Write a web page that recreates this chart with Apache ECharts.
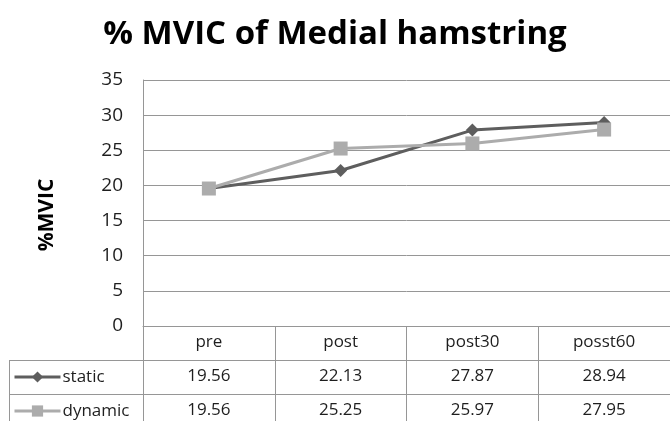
<!DOCTYPE html>
<html>
<head>
<meta charset="utf-8">
<script src="https://cdn.jsdelivr.net/npm/echarts@6/dist/echarts.min.js"></script>
<style>
  html, body { margin: 0; padding: 0; background: #fff; }
  #chart { width: 670px; height: 421px; }
</style>
</head>
<body>
<div id="chart"></div>
<script>
// Phases of the measurement
const categories = ['pre', 'post', 'post30', 'posst60'];
// %MVIC of the medial hamstring per stretching protocol
const staticValues = [19.56, 22.13, 27.87, 28.94];
const dynamicValues = [19.56, 25.25, 25.97, 27.95];
const seriesNames = ['static', 'dynamic'];

const FONT = '"Open Sans", "Noto Sans", sans-serif';
const LINE = '#969696';
const TEXT = '#1e1e1e';
const TABLE_FONT = 17;

// Plot and data-table geometry
const G_LEFT = 143, G_TOP = 80, G_WIDTH = 533, G_HEIGHT = 246;
const ROW_H = 34;
const TABLE_LEFT = 9;
const G_BOTTOM_Y = G_TOP + G_HEIGHT;

const chart = echarts.init(document.getElementById('chart'));

function tableAxis(labels, offset) {
  return {
    type: 'category',
    position: 'bottom',
    offset: offset,
    data: labels,
    boundaryGap: true,
    axisLine: { show: true, lineStyle: { color: LINE, width: 1 } },
    axisTick: { show: false },
    axisLabel: {
      interval: 0, margin: 8, color: TEXT, fontSize: TABLE_FONT, fontFamily: FONT
    },
    splitLine: { show: false }
  };
}

// One legend per table row so each key sits in its own row-header cell
function rowLegend(name, rowIndex) {
  return {
    data: [name],
    orient: 'horizontal',
    left: 13,
    top: G_BOTTOM_Y + ROW_H * rowIndex + ROW_H / 2 - 9,
    padding: 0,
    itemWidth: 46,
    itemHeight: 14,
    lineStyle: { width: 3 },
    textStyle: {
      fontSize: TABLE_FONT, lineHeight: 18, color: TEXT, fontFamily: FONT,
      padding: [0, 0, 0, -3]
    },
    selectedMode: false
  };
}

chart.setOption({
  animation: false,
  backgroundColor: '#fff',
  title: {
    text: '% MVIC of Medial hamstring',
    left: 'center',
    top: 13,
    textStyle: { fontSize: 33, fontWeight: 'bold', color: '#000', fontFamily: FONT }
  },
  legend: [rowLegend(seriesNames[0], 1), rowLegend(seriesNames[1], 2)],
  grid: { left: G_LEFT, top: G_TOP, width: G_WIDTH, height: G_HEIGHT, containLabel: false },
  xAxis: [
    {
      type: 'category',
      position: 'bottom',
      data: categories,
      boundaryGap: true,
      axisLine: { show: true, lineStyle: { color: LINE, width: 1 } },
      axisTick: { show: true, interval: 0, length: ROW_H * 3, lineStyle: { color: LINE, width: 1 } },
      axisLabel: { interval: 0, margin: 8, color: TEXT, fontSize: TABLE_FONT, fontFamily: FONT },
      splitLine: { show: false }
    },
    tableAxis(staticValues.map(v => v.toFixed(2)), ROW_H),
    tableAxis(dynamicValues.map(v => v.toFixed(2)), ROW_H * 2)
  ],
  yAxis: {
    type: 'value',
    min: 0,
    max: 35,
    interval: 5,
    axisLine: { show: true, lineStyle: { color: LINE, width: 1 } },
    axisTick: { show: false },
    axisLabel: { margin: 20, color: TEXT, fontSize: 19, fontFamily: FONT },
    splitLine: { show: true, lineStyle: { color: LINE, width: 1 } }
  },
  graphic: [
    {
      type: 'text',
      x: 47, y: 215,
      rotation: Math.PI / 2,
      style: {
        text: '%MVIC', fill: '#000', font: 'bold 21px ' + FONT,
        align: 'center', verticalAlign: 'middle'
      }
    },
    // row-header cell borders of the data table
    {
      type: 'line',
      shape: { x1: TABLE_LEFT, y1: G_BOTTOM_Y + ROW_H + 0.5, x2: G_LEFT, y2: G_BOTTOM_Y + ROW_H + 0.5 },
      style: { stroke: LINE, lineWidth: 1 }
    },
    {
      type: 'line',
      shape: { x1: TABLE_LEFT, y1: G_BOTTOM_Y + ROW_H * 2 + 0.5, x2: G_LEFT, y2: G_BOTTOM_Y + ROW_H * 2 + 0.5 },
      style: { stroke: LINE, lineWidth: 1 }
    },
    {
      type: 'line',
      shape: { x1: TABLE_LEFT + 0.5, y1: G_BOTTOM_Y + ROW_H, x2: TABLE_LEFT + 0.5, y2: G_BOTTOM_Y + ROW_H * 3 },
      style: { stroke: LINE, lineWidth: 1 }
    }
  ],
  series: [
    {
      name: seriesNames[0],
      type: 'line',
      data: staticValues,
      symbol: 'diamond',
      symbolSize: 13,
      itemStyle: { color: '#5e5e5e' },
      lineStyle: { color: '#5e5e5e', width: 3 },
      z: 2
    },
    {
      name: seriesNames[1],
      type: 'line',
      data: dynamicValues,
      symbol: 'rect',
      symbolSize: 14,
      itemStyle: { color: '#acacac' },
      lineStyle: { color: '#acacac', width: 3 },
      z: 3
    }
  ]
});
</script>
</body>
</html>
